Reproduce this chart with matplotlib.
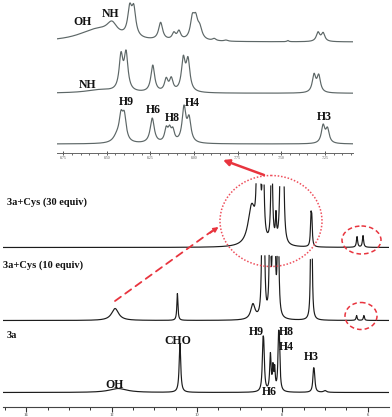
import numpy as np
import matplotlib.pyplot as plt
from matplotlib.patches import Ellipse
from matplotlib.ticker import MultipleLocator

plt.rcParams['font.family'] = ['Liberation Serif', 'DejaVu Serif']

W, H = 392, 417   # output size in px

# ---------------------------------------------------------------------------
# Peak tables: position (ppm), height (px), half width (ppm)
# lower panel : 3a, 3a+Cys (10 equiv), 3a+Cys (30 equiv)
a3_ppm = [11.85, 10.40, 8.455, 8.435, 8.28, 8.22, 8.18, 8.09, 8.07, 7.27, 7.25, 7.00]
a3_h   = [4, 49, 54, 52, 40, 30, 28, 60, 58, 24, 22, 2]
a3_w   = [0.25, 0.022, 0.02, 0.02, 0.02, 0.016, 0.016, 0.018, 0.018, 0.02, 0.02, 0.04]

c10_ppm = [11.92, 10.46, 8.69, 8.47, 8.43, 8.29, 8.22, 8.18, 8.10, 7.33, 7.31, 6.26, 6.09]
c10_h   = [12, 27, 17, 150, 150, 150, 150, 150, 150, 120, 120, 5, 5]
c10_w   = [0.10, 0.015, 0.06, 0.017, 0.017, 0.016, 0.016, 0.016, 0.017, 0.014, 0.014, 0.015, 0.015]

c30_ppm = [8.72, 8.59, 8.53, 8.45, 8.25, 8.15, 8.04, 7.98, 7.33, 7.31, 6.25, 6.11]
c30_h   = [44, 120, 120, 120, 120, 37, 120, 120, 36, 34, 11, 12]
c30_w   = [0.10, 0.022, 0.022, 0.022, 0.02, 0.015, 0.022, 0.022, 0.014, 0.014, 0.017, 0.017]

# inset (7.09 - 8.78 ppm): bottom = 3a, middle, top
ib_ppm = [8.441, 8.418, 8.399, 8.239, 8.159, 8.140, 8.121, 8.057, 8.028, 7.260, 7.235]
ib_h   = [14, 34, 33, 26, 18, 19, 17, 39, 29, 20, 17]
ib_w   = [0.025, 0.013, 0.013, 0.014, 0.011, 0.011, 0.011, 0.013, 0.013, 0.012, 0.012]

im_ppm = [8.537, 8.418, 8.389, 8.236, 8.159, 8.130, 8.061, 8.034, 7.312, 7.285]
im_h   = [4, 41.6, 43.3, 28.3, 16, 16.6, 38, 36.6, 20, 19.3]
im_w   = [0.10, 0.013, 0.013, 0.013, 0.012, 0.012, 0.013, 0.013, 0.012, 0.012]

it_ppm = [8.556, 8.470, 8.368, 8.345, 8.249, 8.191, 8.115, 8.086, 8.009, 7.990, 7.967,
          7.884, 7.817, 7.462, 7.289, 7.260]
it_h   = [14, 21, 38.7, 38, 3, 19.7, 10.3, 12, 28.7, 29.3, 18.7, 3.7, 2, 1.5, 10.3, 9.7]
it_w   = [0.13, 0.035, 0.014, 0.014, 0.01, 0.014, 0.012, 0.012, 0.014, 0.014, 0.016,
          0.012, 0.012, 0.006, 0.012, 0.012]

main_ticks = [14, 12, 10, 8, 6]
inset_ticks = [8.75, 8.50, 8.25, 8.00, 7.75, 7.50, 7.25]
inset_ticklabels = ['8.75', '8.50', '8.25', '8.00', '7.75', '7.50', '7.25']


def spectrum(x, ppm, height, hw):
    ppm, height, hw = np.asarray(ppm), np.asarray(height, float), np.asarray(hw)
    # Lorentzian lines; amplitudes solved so the sum passes through the read heights
    M = 1.0 / (1.0 + ((ppm[:, None] - ppm[None, :]) / hw[None, :]) ** 2)
    amp = np.clip(np.linalg.solve(M, height), 0, None)
    return (amp / (1.0 + ((x[:, None] - ppm[None, :]) / hw[None, :]) ** 2)).sum(axis=1)


def frac(left, right, top, bottom):
    return [left / W, 1 - bottom / H, (right - left) / W, (bottom - top) / H]


def bare(ax):
    ax.set_facecolor('none')
    for s in ['left', 'right', 'top']:
        ax.spines[s].set_visible(False)
    ax.set_yticks([])


fig = plt.figure(figsize=(W / 100, H / 100), dpi=100)

# ---- lower panel -----------------------------------------------------------
ax = fig.add_axes(frac(3.3, 388.6, 150, 407))
bare(ax)
ax.set_xlim(14.54, 5.51)
ax.set_ylim(0, 257)
x = np.linspace(14.54, 5.51, 6000)
for ppm, h, w, base, clip in [(a3_ppm, a3_h, a3_w, 14.5, 200),
                              (c10_ppm, c10_h, c10_w, 86.5, 66.5),
                              (c30_ppm, c30_h, c30_w, 159.5, 64)]:
    y = spectrum(x, ppm, h, w)
    y = np.where(y > clip, np.nan, y)
    ax.plot(x, base + y, color='#1c1c1c', lw=0.85)
ax.set_xticks(main_ticks)
ax.set_xticklabels([str(t) for t in main_ticks])
ax.xaxis.set_minor_locator(MultipleLocator(0.5))
ax.spines['bottom'].set_color('#444444')
ax.spines['bottom'].set_linewidth(0.8)
ax.tick_params(axis='x', which='major', length=3.6, width=0.8, labelsize=3.3,
               pad=0.6, colors='#333333')
ax.tick_params(axis='x', which='minor', length=1.8, width=0.7, colors='#333333')

# ---- inset (expanded aromatic region) -------------------------------------
ax2 = fig.add_axes(frac(57.3, 353.3, 0, 153.3))
bare(ax2)
ax2.set_xlim(8.783, 7.087)
ax2.set_ylim(0, 153.3)
xi = np.linspace(8.783, 7.087, 4000)
for ppm, h, w, base in [(ib_ppm, ib_h, ib_w, 9.3),
                        (im_ppm, im_h, im_w, 60.0),
                        (it_ppm, it_h, it_w, 111.3)]:
    ax2.plot(xi, base + spectrum(xi, ppm, h, w), color='#5d6767', lw=0.85)
ax2.set_xticks(inset_ticks)
ax2.set_xticklabels(inset_ticklabels)
ax2.xaxis.set_minor_locator(MultipleLocator(0.05))
ax2.spines['bottom'].set_color('#666666')
ax2.spines['bottom'].set_linewidth(0.7)
ax2.tick_params(axis='x', which='major', direction='inout', length=3, width=0.7,
                labelsize=2.8, pad=0.4, colors='#555555')
ax2.tick_params(axis='x', which='minor', length=1.2, width=0.6, colors='#555555')

# ---- overlay: labels, arrows, circles --------------------------------------
ov = fig.add_axes([0, 0, 1, 1])
ov.set_xlim(0, W)
ov.set_ylim(H, 0)
ov.axis('off')

bold = dict(fontweight='bold', color='#111111', va='center')
ov.text(7, 202, '3a+Cys (30 equiv)', fontsize=7.5, ha='left', **bold)
ov.text(3, 265, '3a+Cys (10 equiv)', fontsize=7.5, ha='left', **bold)
ov.text(7, 335, '3a', fontsize=7.5, ha='left', **bold)

peak_labels = [('OH', 115, 385), ('CHO', 177.5, 341), ('H9', 256, 332), ('H6', 269, 392),
               ('H8', 286, 332), ('H4', 286, 346.5), ('H3', 311, 357.5),
               ('OH', 83, 21.5), ('NH', 111, 14), ('NH', 87.5, 85),
               ('H9', 126.5, 101.5), ('H6', 153.5, 109.5), ('H8', 172.5, 117.5),
               ('H4', 192.5, 102.5), ('H3', 324, 116.5)]
for txt, px, py in peak_labels:
    ov.text(px, py, txt, fontsize=8.5, ha='center', **bold)

red = '#e8343e'
ov.add_patch(Ellipse((271, 221), 102, 91, fill=False, ec='#ee4f5c', lw=1.1, ls=(0, (1, 1.2))))
ov.add_patch(Ellipse((361.5, 240), 39, 28, fill=False, ec=red, lw=1.1, ls=(0, (3, 2))))
ov.add_patch(Ellipse((361, 316), 32, 27, fill=False, ec=red, lw=1.1, ls=(0, (3, 2))))

ov.annotate('', xy=(223, 160), xytext=(264, 175),
            arrowprops=dict(arrowstyle='-|>', color=red, lw=1.8, mutation_scale=9,
                            shrinkA=0, shrinkB=0))
ov.annotate('', xy=(212, 231), xytext=(115, 301),
            arrowprops=dict(arrowstyle='-', color=red, lw=1.3, ls=(0, (4, 3)),
                            shrinkA=0, shrinkB=0))
ov.annotate('', xy=(218.5, 227), xytext=(210, 233),
            arrowprops=dict(arrowstyle='-|>', color=red, lw=1.2, mutation_scale=7,
                            shrinkA=0, shrinkB=0))

fig.savefig('out.png', dpi=100)
